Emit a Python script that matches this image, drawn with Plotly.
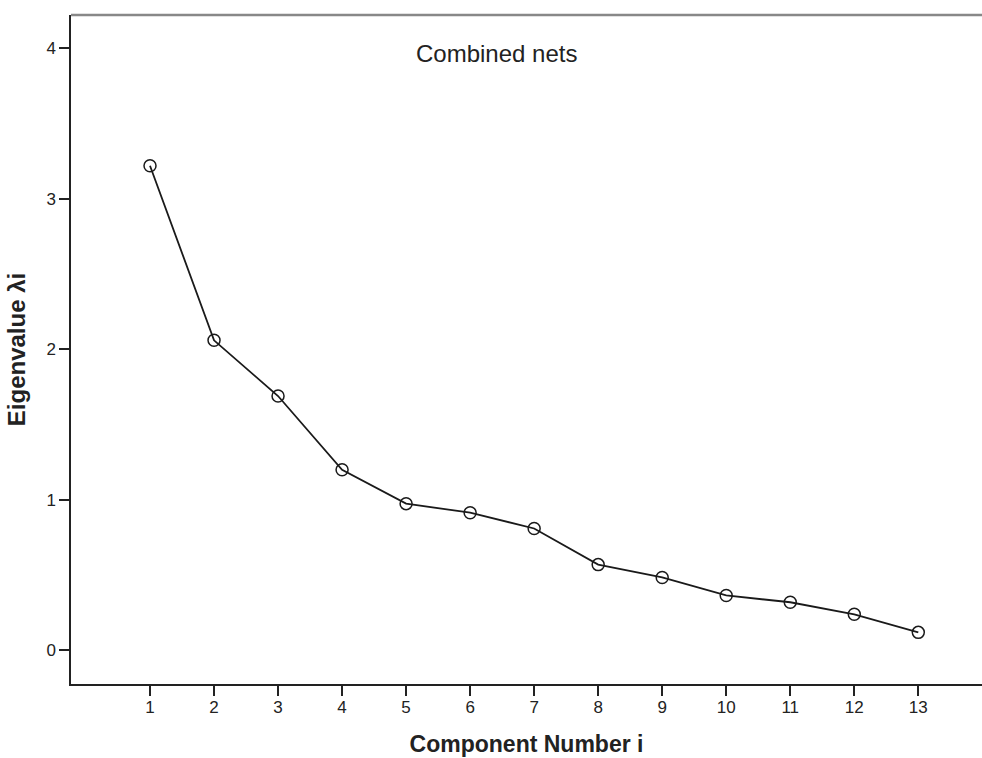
import plotly.graph_objects as go

components = list(range(1, 14))
eigenvalues = [3.22, 2.06, 1.69, 1.20, 0.975, 0.915, 0.81, 0.57, 0.485, 0.365, 0.32, 0.24, 0.12]
x_tick_vals = list(range(1, 14))
y_tick_vals = [0, 1, 2, 3, 4]

fig = go.Figure()
fig.add_trace(go.Scatter(
    x=components, y=eigenvalues, mode="lines+markers",
    line=dict(color="#1a1a1a", width=1.8),
    marker=dict(symbol="circle-open", size=12, color="#1a1a1a", line=dict(width=1.5)),
    showlegend=False,
))

fig.update_layout(
    width=982, height=758,
    margin=dict(l=71, r=0, t=15, b=74),
    paper_bgcolor="white", plot_bgcolor="white",
    font=dict(family="Liberation Sans, Arial, sans-serif", color="#222"),
    xaxis=dict(range=[-0.234, 13.995], tickvals=x_tick_vals, ticks="outside", ticklen=10,
               tickwidth=1.5, tickcolor="#222", showline=True, linecolor="#222", linewidth=1.5,
               showgrid=False, zeroline=False, tickfont=dict(size=17), ticklabelstandoff=-3,
               title=dict(text="<b>Component Number i</b>", font=dict(size=23), standoff=20)),
    yaxis=dict(range=[-0.223, 4.221], tickvals=y_tick_vals, ticks="outside", ticklen=10,
               tickwidth=1.5, tickcolor="#222", showline=True, linecolor="#222", linewidth=1.5,
               showgrid=False, zeroline=False, tickfont=dict(size=17),
               title=dict(text="<b>Eigenvalue λi</b>", font=dict(size=24), standoff=14)),
    shapes=[dict(type="line", xref="paper", yref="paper", x0=0, x1=1, y0=1, y1=1,
                 line=dict(color="#888", width=2.5))],
    annotations=[dict(text="Combined nets", xref="paper", yref="paper", x=0.4676, y=0.942,
                      showarrow=False, font=dict(size=24, color="#222"), xanchor="center", yanchor="middle")],
)

fig.write_html("out.html", config={"displayModeBar": False},
               post_script="document.body.style.margin='0';document.body.style.overflow='hidden';")
